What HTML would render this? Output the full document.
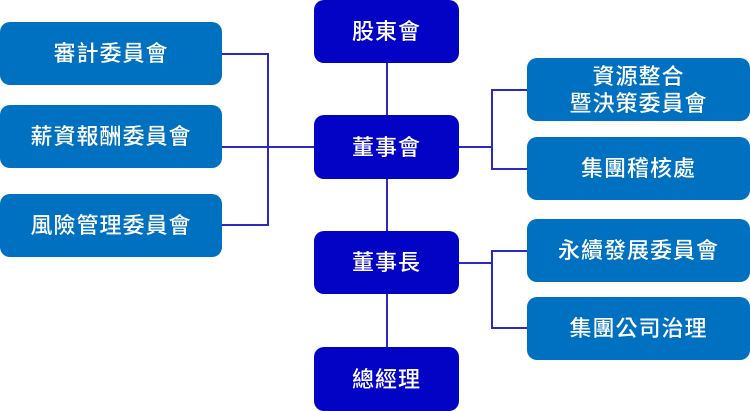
<!DOCTYPE html><html><head><style>
body{margin:0;width:750px;height:411px;background:#fff;position:relative;overflow:hidden;font-family:"Liberation Sans","Noto Sans CJK TC",sans-serif}
.b{position:absolute;color:#fff;display:flex;align-items:center;justify-content:center;text-align:center;border-radius:10px;font-size:22px;line-height:27px;letter-spacing:1px;font-weight:500}
.s{background:#0070c0}.c{background:#0303c6}
.l{position:absolute;background:#2a2ac0}
</style></head><body>
<div class="l" style="left:386px;top:60px;width:2px;height:290px"></div>
<div class="l" style="left:222px;top:146px;width:92px;height:2px"></div>
<div class="l" style="left:267px;top:53px;width:2px;height:173px"></div>
<div class="l" style="left:222px;top:53px;width:46px;height:2px"></div>
<div class="l" style="left:222px;top:224px;width:46px;height:2px"></div>
<div class="l" style="left:459px;top:146px;width:34px;height:2px"></div>
<div class="l" style="left:491px;top:89px;width:2px;height:81px"></div>
<div class="l" style="left:491px;top:89px;width:36px;height:2px"></div>
<div class="l" style="left:491px;top:168px;width:36px;height:2px"></div>
<div class="l" style="left:459px;top:262px;width:34px;height:2px"></div>
<div class="l" style="left:491px;top:250px;width:2px;height:79px"></div>
<div class="l" style="left:491px;top:250px;width:36px;height:2px"></div>
<div class="l" style="left:491px;top:327px;width:36px;height:2px"></div>
<div class="b s" style="left:0;top:22px;width:222px;height:63px">審計委員會</div>
<div class="b s" style="left:0;top:105px;width:222px;height:63px">薪資報酬委員會</div>
<div class="b s" style="left:0;top:194px;width:222px;height:63px">風險管理委員會</div>
<div class="b c" style="left:314px;top:0;width:145px;height:63px">股東會</div>
<div class="b c" style="left:314px;top:115px;width:145px;height:64px">董事會</div>
<div class="b c" style="left:314px;top:231px;width:145px;height:63px">董事長</div>
<div class="b c" style="left:314px;top:347px;width:145px;height:64px">總經理</div>
<div class="b s" style="left:527px;top:58px;width:223px;height:63px">資源整合<br>暨決策委員會</div>
<div class="b s" style="left:527px;top:137px;width:223px;height:63px">集團稽核處</div>
<div class="b s" style="left:527px;top:219px;width:223px;height:63px">永續發展委員會</div>
<div class="b s" style="left:527px;top:297px;width:223px;height:63px">集團公司治理</div>
</body></html>
